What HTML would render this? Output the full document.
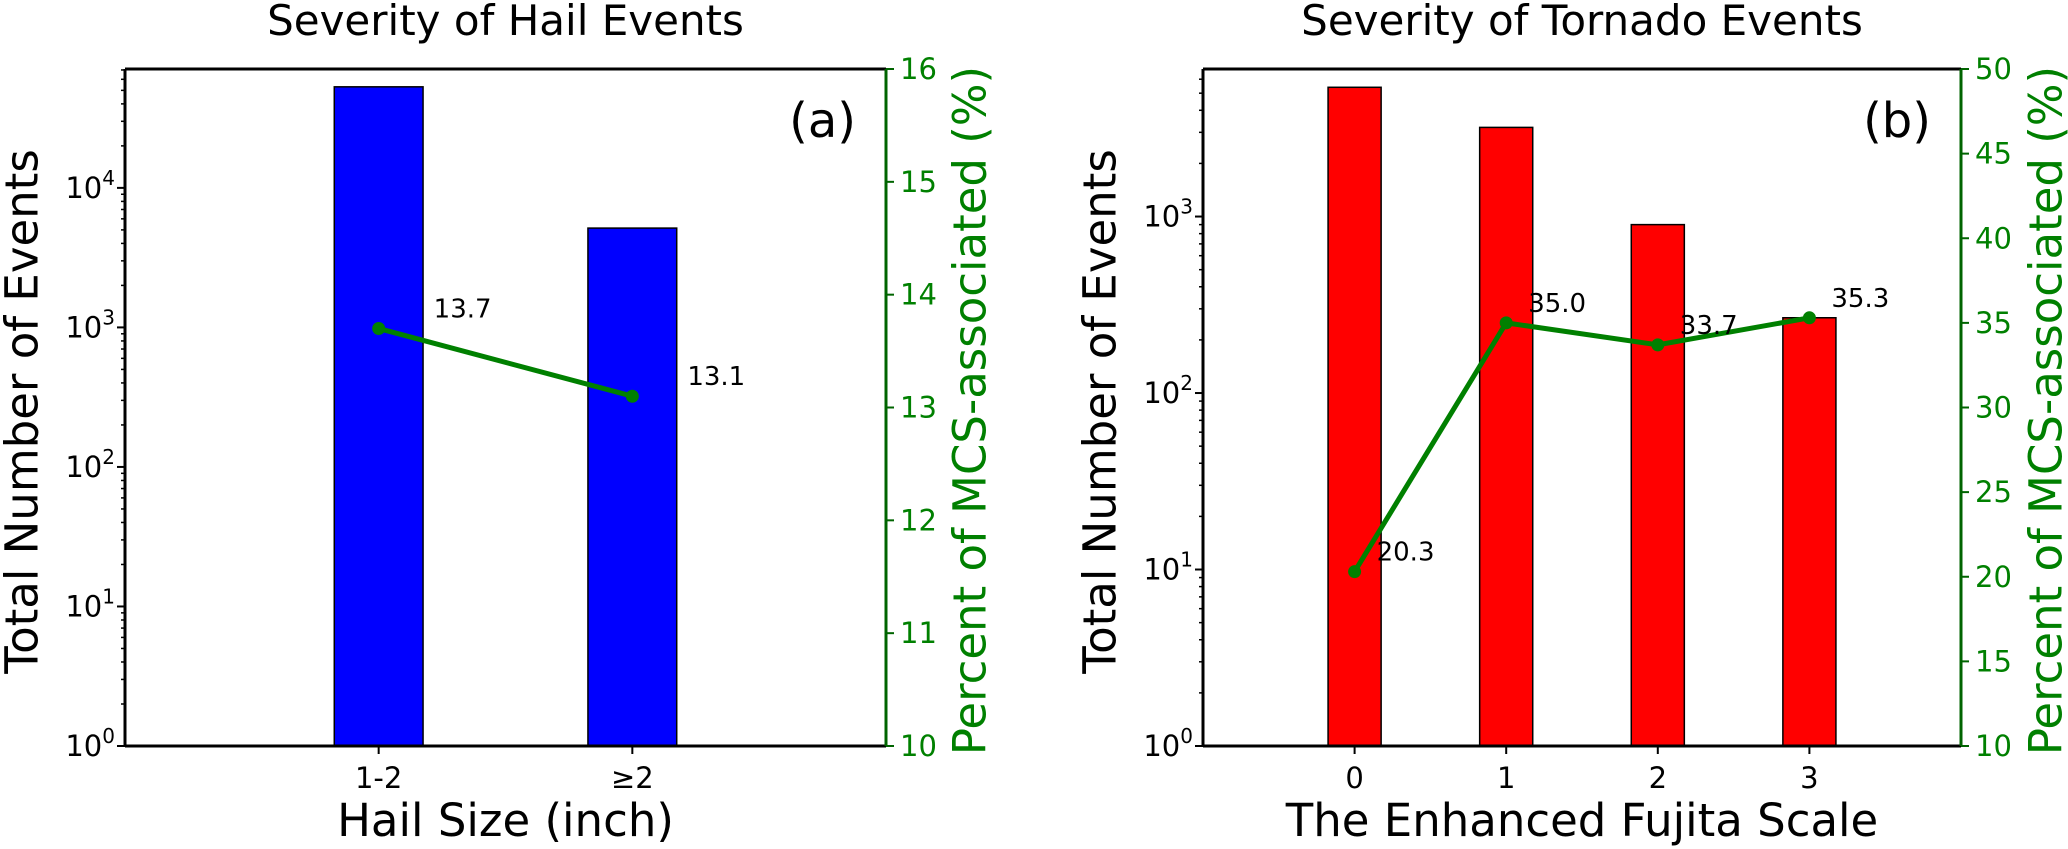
<!DOCTYPE html>
<html><head><meta charset="utf-8"><style>
body{margin:0;background:#fff}
svg{display:block;font-family:"DejaVu Sans","Liberation Sans",sans-serif}
</style></head><body>
<svg id="c" width="2068" height="849" viewBox="0 0 2068 849" xmlns="http://www.w3.org/2000/svg"></svg>
<script>
const hailCategories = ["1-2", "≥2"];
const hailCounts = [53000, 5150];
const hailPercent = [13.7, 13.1];
const hailPercentTicks = [10, 11, 12, 13, 14, 15, 16];
const tornadoCategories = ["0", "1", "2", "3"];
const tornadoCounts = [5400, 3200, 900, 267];
const tornadoPercent = [20.3, 35.0, 33.7, 35.3];
const tornadoPercentTicks = [10, 15, 20, 25, 30, 35, 40, 45, 50];

const NS = "http://www.w3.org/2000/svg";
const svg = document.getElementById("c");
function mk(tag, attrs, parent, text) {
  const e = document.createElementNS(NS, tag);
  for (const k in attrs) e.setAttribute(k, attrs[k]);
  if (text !== undefined) e.textContent = text;
  (parent || svg).appendChild(e);
  return e;
}

function panel(o) {
  const g = mk("g", {});
  
  
  const L = o.left, R = o.right, T = 69, B = 746;
  const xs = v => L + (v - o.xmin) / (o.xmax - o.xmin) * (R - L);
  const ys = v => B - (Math.log10(v) - 0) / o.logMax * (B - T);
  const yr = v => B - (v - o.pmin) / (o.pmax - o.pmin) * (B - T);

  const t = mk("text", {x: (L + R) / 2, y: 35, "font-size": 42, "text-anchor": "middle"}, g, o.title);
  
  

  o.counts.forEach((c, i) => {
    const x0 = xs(i - 0.175), x1 = xs(i + 0.175);
    const r = mk("rect", {x: x0, y: ys(c), width: x1 - x0, height: B - ys(c), fill: o.color, stroke: "#000", "stroke-width": 1.5}, g);
    
    
  });

  mk("line", {x1: L, y1: T, x2: R, y2: T, stroke: "#000", "stroke-width": 3}, g);
  mk("line", {x1: L, y1: B, x2: R, y2: B, stroke: "#000", "stroke-width": 3}, g);
  mk("line", {x1: L, y1: T, x2: L, y2: B, stroke: "#000", "stroke-width": 3}, g);
  mk("line", {x1: R, y1: T, x2: R, y2: B, stroke: "#006400", "stroke-width": 3}, g);

  for (let d = 0; d <= Math.floor(o.logMax); d++) {
    const y = ys(Math.pow(10, d));
    mk("line", {x1: L - 8, y1: y, x2: L, y2: y, stroke: "#000", "stroke-width": 2}, g);
    const tx = mk("text", {x: L - 10, y: y + 10, "font-size": 29, "text-anchor": "end"}, g);
    
    
    mk("tspan", {}, tx, "10");
    mk("tspan", {dy: -13, "font-size": 20}, tx, String(d));
    for (let m = 2; m <= 9; m++) {
      const v = m * Math.pow(10, d);
      if (Math.log10(v) > o.logMax) break;
      const ym = ys(v);
      mk("line", {x1: L - 4, y1: ym, x2: L, y2: ym, stroke: "#000", "stroke-width": 1.5}, g);
    }
  }
  o.cats.forEach((c, i) => {
    const x = xs(i);
    mk("line", {x1: x, y1: B, x2: x, y2: B + 8, stroke: "#000", "stroke-width": 2}, g);
    const tx = mk("text", {x: x, y: 788, "font-size": 29, "text-anchor": "middle"}, g, c);
    
    
  });
  o.pticks.forEach(v => {
    const y = yr(v);
    mk("line", {x1: R, y1: y, x2: R + 8, y2: y, stroke: "#006400", "stroke-width": 2}, g);
    const tx = mk("text", {x: R + 14, y: y + 10, "font-size": 29, fill: "#008000"}, g, String(v));
    
    
  });

  const pts = o.pct.map((p, i) => xs(i) + "," + yr(p)).join(" ");
  const pl = mk("polyline", {points: pts, fill: "none", stroke: "#008000", "stroke-width": 5}, g);
  
  
  o.pct.forEach((p, i) => {
    const cc = mk("circle", {cx: xs(i), cy: yr(p), r: 6.5, fill: "#008000"}, g);
    
    
    const a = mk("text", {x: xs(i) + o.annDx, y: yr(p) - 11, "font-size": 26}, g, p.toFixed(1));
    
    
  });

  const pl2 = mk("text", {x: R - 30, y: 137, "font-size": 48, "text-anchor": "end"}, g, o.letter);
  
  

  const xl = mk("text", {x: (L + R) / 2, y: 836, "font-size": 45, "text-anchor": "middle"}, g, o.xlabel);
  
  
  const yl = mk("text", {x: 0, y: 0, "font-size": 45, "text-anchor": "middle", "dominant-baseline": "central", transform: `translate(${o.ylX},${(T + B) / 2 + 4}) rotate(-90)`}, g, "Total Number of Events");
  
  
  const y2 = mk("text", {x: 0, y: 0, "font-size": 45, fill: "#008000", "text-anchor": "middle", "dominant-baseline": "central", transform: `translate(${o.y2X},${(T + B) / 2 + 3}) rotate(-90)`}, g, "Percent of MCS-associated (%)");
  
  
}

panel({name: "hail-panel", title: "Severity of Hail Events", left: 125, right: 886, xmin: -1, xmax: 2,
  logMax: 4.852, pmin: 10, pmax: 16, cats: hailCategories, counts: hailCounts, pct: hailPercent,
  pticks: hailPercentTicks, color: "#0000ff", letter: "(a)", xlabel: "Hail Size (inch)",
  annDx: 55, ylX: 22, y2X: 970});
panel({name: "tornado-panel", title: "Severity of Tornado Events", left: 1203, right: 1961, xmin: -1, xmax: 4,
  logMax: 3.836, pmin: 10, pmax: 50, cats: tornadoCategories, counts: tornadoCounts, pct: tornadoPercent,
  pticks: tornadoPercentTicks, color: "#ff0000", letter: "(b)", xlabel: "The Enhanced Fujita Scale",
  annDx: 22, ylX: 1100, y2X: 2046});
</script>
</body></html>
